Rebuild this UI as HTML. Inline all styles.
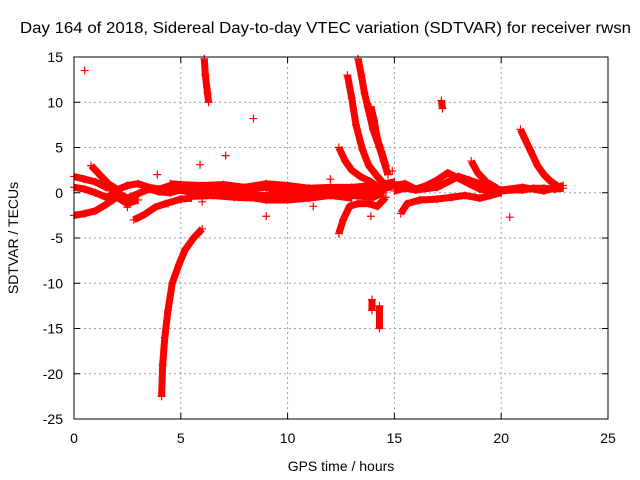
<!DOCTYPE html>
<html><head><meta charset="utf-8"><style>
html,body{margin:0;padding:0;background:#fff;}
svg{display:block;font-family:"Liberation Sans",sans-serif;}
</style></head><body>
<svg id="chart" width="640" height="480" viewBox="0 0 640 480">
<text x="20" y="33" font-size="15.5" textLength="611" lengthAdjust="spacingAndGlyphs" fill="#000">Day 164 of 2018, Sidereal Day-to-day VTEC variation (SDTVAR) for receiver rwsn</text>
<text x="341" y="471" font-size="14" text-anchor="middle">GPS time / hours</text>
<text x="18" y="238" font-size="14" text-anchor="middle" transform="rotate(-90 18 238)">SDTVAR / TECUs</text>
<g id="grid"></g>
<g id="ticks"></g>
<g id="marks"></g>
<rect x="74" y="57" width="534" height="362" fill="none" stroke="#000" stroke-width="1"/>
</svg>
<script>
const xTicks=[0,5,10,15,20,25];
const yTicks=[15,10,5,0,-5,-10,-15,-20,-25];
const trackA=[[0,1.8],[0.5,1.5],[1,1.2],[1.5,0.6],[2,0.3],[2.5,0.8],[3,1],[3.5,0.6],[4,0.4],[4.5,0.8],[5,0.6],[5.5,0.4],[6,0.2],[6.5,0.5],[7,0.6],[7.5,0.3],[8,0.2],[8.5,0.5],[9,0.6],[9.5,0.2],[10,0.1],[11,0],[12,0.2],[13,0.3],[13.5,0.1],[14.2,0.2],[15,0.8],[15.5,1],[16,0.4],[16.5,0.8],[17,1.4],[17.5,2.2],[18,1.6],[18.5,1],[19,0.4],[19.5,0.2],[20,0.2],[20.5,0.3],[21,0.3],[21.5,0.5],[22,0.5],[22.5,0.4],[22.9,0.5]];
const trackB=[[0,0.6],[0.5,0.4],[1,0],[1.5,-0.5],[2,0],[2.5,-0.6],[3,-0.1],[3.5,0.4],[4,0.1],[4.5,0],[5,0.3],[5.5,0],[6,-0.3],[6.5,0],[7,0.2],[8,-0.2],[9,-0.3],[10,-0.4],[11,-0.2],[12,-0.1],[13,-0.3],[14,-0.5],[14.5,0]];
const trackR=[[4.5,1],[5,0.9],[6,0.8],[7,0.9],[8,0.6],[9,1],[10,0.8],[11,0.5],[12,0.6],[13,0.6],[14,0.8],[15,1.2]];
const trackS=[[5.5,-0.4],[6.5,-0.3],[7.5,-0.5],[8.5,-0.6],[9,-0.8],[10,-0.8],[11,-0.6],[12,-0.3],[13,-0.6]];
const trackT=[[15,0.2],[15.5,0.5],[16,0.3],[17,0.6],[17.5,1.2],[18,1.8],[18.5,1.4],[19,1],[19.5,0.6],[20,0.3],[21,0.6],[22,0.2],[22.9,0.8]];
const trackC=[[0,-2.5],[0.5,-2.3],[1,-2],[1.5,-1.3],[2,-0.5],[2.5,-1.2],[3,-0.8]];
const trackD=[[0.8,3],[1.2,2],[1.6,1],[2,0.4]];
const trackE=[[2.8,-3],[3.3,-2.4],[3.8,-1.6],[4.3,-1.2],[5,-0.7],[5.5,-0.6]];
const trackF=[[4.1,-22.5],[4.15,-19],[4.25,-16],[4.4,-13],[4.6,-10],[4.9,-8],[5.2,-6.3],[5.6,-5],[6,-4]];
const trackG=[[6.1,14.8],[6.15,13],[6.25,11],[6.3,10]];
const trackH=[[12.4,-4.5],[12.6,-3],[12.9,-1.5],[13.3,-1.2],[13.8,-1.2],[14.2,-1.5],[14.6,-0.5]];
const trackI=[[12.4,5],[12.7,3.5],[13,2.5],[13.4,1.8],[13.9,1.2],[14.3,0.5]];
const trackJ=[[12.8,13],[13,10.5],[13.2,7.5],[13.5,4.8],[13.8,3],[14.2,1.8],[14.5,1]];
const trackK=[[13.3,14.8],[13.45,13],[13.6,11],[13.75,9.5],[14,7],[14.3,5],[14.5,3.5],[14.7,2]];
const trackL=[[13.9,9.5],[14.05,8],[14.2,6],[14.4,4.5],[14.6,3]];
const trackM=[[13.95,-11.8],[13.95,-13]];
const trackM2=[[14.3,-12.5],[14.3,-15]];
const trackN=[[15.3,-2.3],[15.6,-1.2],[16.2,-0.8],[17,-0.7],[17.7,-0.5],[18.3,-0.3],[19,-0.6],[19.5,-0.3],[20,0]];
const trackO=[[17.2,10.2],[17.25,9.3]];
const trackP=[[18.6,3.5],[18.9,2.2],[19.3,1.2],[19.8,0.5]];
const trackQ=[[20.9,7],[21.1,6],[21.4,4.5],[21.7,3],[22,2],[22.3,1.3],[22.6,0.8]];
const singles=[[0.5,13.5],[5.9,3.1],[7.1,4.1],[8.4,8.2],[9,-2.6],[13.9,-2.6],[20.4,-2.7],[11.2,-1.5],[2.5,-1.6],[4.4,-1.2],[6,-1],[14.9,2.4],[3.9,2],[12,1.5]];
const tracks=[trackA,trackB,trackR,trackS,trackT,trackC,trackD,trackE,trackF,trackG,trackH,trackI,trackJ,trackK,trackL,trackM,trackM2,trackN,trackO,trackP,trackQ];

const NS='http://www.w3.org/2000/svg';
const X0=74,X1=608,Y0=419,Y1=57;
function sx(t){return X0+(t-0)/(25-0)*(X1-X0);}
function sy(v){return Y0-(v+25)/(15+25)*(Y0-Y1);}
function mk(tag,attrs,parent){const e=document.createElementNS(NS,tag);for(const k in attrs)e.setAttribute(k,attrs[k]);parent.appendChild(e);return e;}
const grid=document.getElementById('grid'),ticks=document.getElementById('ticks'),marks=document.getElementById('marks');
xTicks.forEach(t=>{
  const x=sx(t);
  if(t>0&&t<25){const g=mk('line',{x1:x,x2:x,y1:Y1,y2:Y0,stroke:'#a0a0a0','stroke-dasharray':'2,3'},grid);}
  mk('line',{x1:x,x2:x,y1:Y0,y2:Y0-6,stroke:'#000'},ticks);
  mk('line',{x1:x,x2:x,y1:Y1,y2:Y1+6,stroke:'#000'},ticks);
  const l=mk('text',{x:x,y:443,'font-size':14,'text-anchor':'middle'},ticks);l.textContent=t;
  
  
});
yTicks.forEach(v=>{
  const y=sy(v);
  if(v>-25&&v<15){const g=mk('line',{x1:X0,x2:X1,y1:y,y2:y,stroke:'#a0a0a0','stroke-dasharray':'2,3'},grid);}
  mk('line',{x1:X0,x2:X0+6,y1:y,y2:y,stroke:'#000'},ticks);
  mk('line',{x1:X1,x2:X1-6,y1:y,y2:y,stroke:'#000'},ticks);
  const l=mk('text',{x:63,y:y+5,'font-size':14,'text-anchor':'end'},ticks);l.textContent=v;
  
  
});
function plus(t,v){const x=sx(t),y=sy(v);
  const p=mk('path',{d:`M${x-4},${y}H${x+4}M${x},${y-4}V${y+4}`,stroke:'#f00','stroke-width':1.2},marks);
  
  
}
tracks.forEach(tr=>{
  const pl=mk('polyline',{points:tr.map(p=>sx(p[0])+','+sy(p[1])).join(' '),fill:'none',stroke:'#f00','stroke-width':7,'stroke-linejoin':'round'},marks);
  
  
  tr.forEach(p=>plus(p[0],p[1]));
});
singles.forEach(p=>plus(p[0],p[1]));
</script>
</body></html>
